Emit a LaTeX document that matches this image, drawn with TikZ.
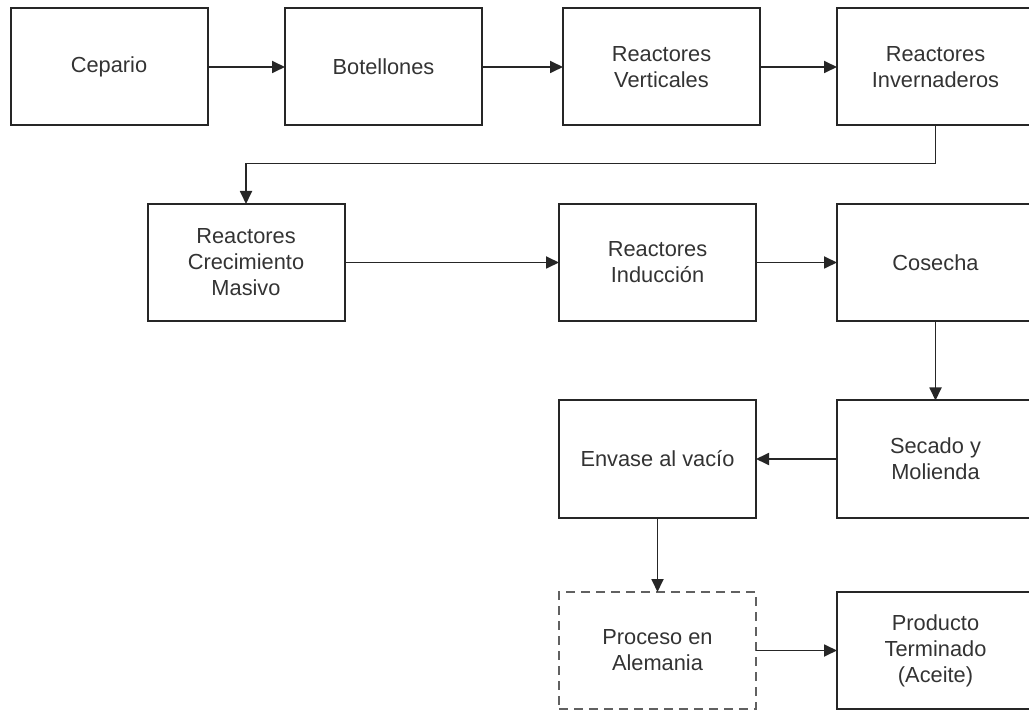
\documentclass[tikz,border=0pt]{standalone}
\usepackage{fontspec}
\setmainfont{Liberation Sans}
\usetikzlibrary{arrows.meta}
\definecolor{boxline}{HTML}{262626}
\definecolor{boxtext}{HTML}{333333}
\tikzset{stage/.style={draw=boxline, line width=2pt,
         minimum width=197pt, minimum height=117pt,
         inner sep=0pt, outer sep=0pt, align=center, text=boxtext,
         font=\fontsize{21.8}{26}\selectfont},
         stagedash/.style={stage, draw=black!62, dash pattern=on 9pt off 6pt},
         flow/.style={draw=boxline, line width=1.8pt,
         -{Triangle[length=13pt,width=12pt]}}}

\begin{document}
\begin{tikzpicture}[x=1pt,y=-1pt]
      \useasboundingbox (0,0) rectangle (1029,711);
      \clip (0,0) rectangle (1029,711);

      \node[stage] (cepario) at (109,67) {Cepario};
      \node[stage] (botellones) at (383.5,67) {Botellones};
      \node[stage] (verticales) at (661.5,67) {Reactores\\Verticales};
      \node[stage] (invernaderos) at (935.5,67) {Reactores\\Invernaderos};

      \node[stage] (crecimiento) at (246,262.5) {Reactores\\Crecimiento\\Masivo};
      \node[stage] (induccion) at (657.5,262.5) {Reactores\\Inducción};
      \node[stage] (cosecha) at (935.5,262.5) {Cosecha};

      \node[stage] (envase) at (657.5,459) {Envase al vacío};
      \node[stage] (secado) at (935.5,459) {Secado y\\Molienda};

      \node[stagedash] (proceso) at (657.5,650.5) {Proceso en\\Alemania};
      \node[stage] (producto) at (935.5,650.5) {Producto\\Terminado\\(Aceite)};

      \draw[flow] (cepario) -- (botellones);
      \draw[flow] (botellones) -- (verticales);
      \draw[flow] (verticales) -- (invernaderos);
      \draw[flow] (invernaderos.south) -- ++(0,38) -| (crecimiento.north);
      \draw[flow] (crecimiento) -- (induccion);
      \draw[flow] (induccion) -- (cosecha);
      \draw[flow] (cosecha) -- (secado);
      \draw[flow] (secado) -- (envase);
      \draw[flow] (envase) -- (proceso);
      \draw[flow] (proceso) -- (producto);
    \end{tikzpicture}
\end{document}
